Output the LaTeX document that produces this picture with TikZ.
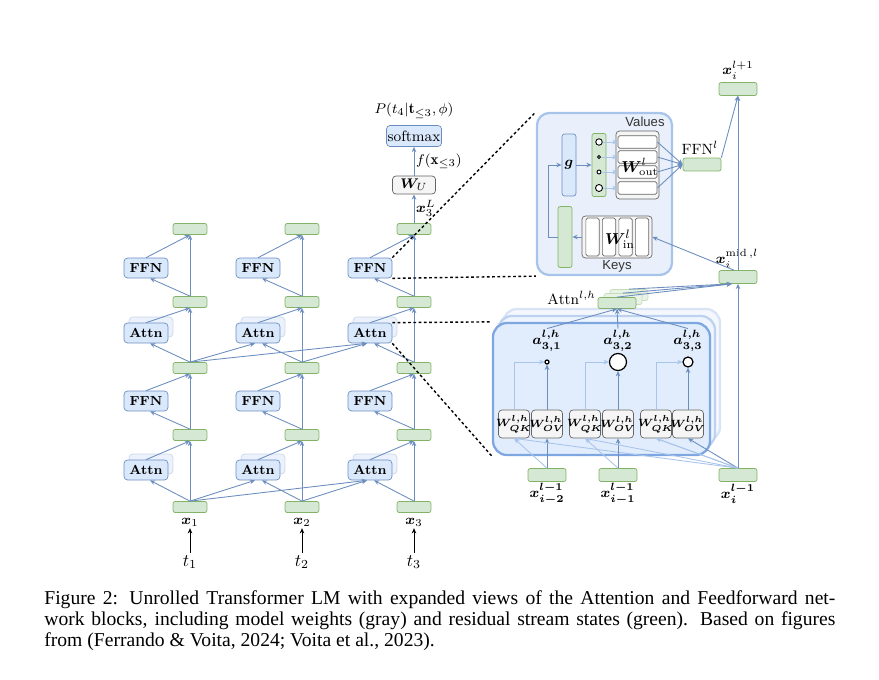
\documentclass[tikz,border=0pt]{standalone}
\usepackage{fontspec}
\usepackage{amsmath}
\usepackage{bm}
\usetikzlibrary{arrows.meta,calc}
\newfontfamily\capfont{Liberation Serif}
\newfontfamily\keyfont{Liberation Sans}

\definecolor{blufill}{HTML}{DAE8FC}
\definecolor{bluline}{HTML}{6C8EBF}
\definecolor{grnfill}{HTML}{D5E8D4}
\definecolor{grnline}{HTML}{82B366}
\definecolor{gryfill}{HTML}{F5F5F5}
\definecolor{gryline}{HTML}{666666}
\definecolor{lightline}{HTML}{A9C4EB}
\definecolor{viewfill}{HTML}{E9F0FB}
\definecolor{viewline}{HTML}{7EA6E0}

\tikzset{
  res/.style={draw=grnline, fill=grnfill, rounded corners=1.2pt, inner sep=0pt,
    minimum width=19.4pt, minimum height=6.3pt},
  midres/.style={res, minimum width=21.7pt, minimum height=7.4pt},
  head/.style={res, minimum width=21.7pt, minimum height=6.3pt},
  headghost/.style={head, draw=grnline!45, fill=grnfill!55},
  blk/.style={draw=bluline, fill=blufill, rounded corners=2pt, inner sep=0pt,
    minimum width=25.1pt, minimum height=11.4pt, font=\fontsize{7.5}{9}\selectfont\bfseries},
  blkghost/.style={blk, draw=bluline!35, fill=blufill!55},
  wbox/.style={draw=gryline, fill=gryfill, rounded corners=2pt, inner sep=0pt,
    minimum width=17.7pt, minimum height=16pt, font=\fontsize{8}{9}\selectfont},
  wlbl/.style={font=\fontsize{6.3}{8}\selectfont, inner sep=0pt},
  cell/.style={draw=gryline, fill=white, rounded corners=1pt, inner sep=0pt},
  neuron/.style={circle, draw=black, fill=white, line width=0.5pt, inner sep=0pt},
  lbl/.style={font=\fontsize{8.5}{10}\selectfont, inner sep=1pt},
  keyl/.style={font=\keyfont\fontsize{7.5}{9}\selectfont, inner sep=1pt, text=black!80},
  view/.style={line width=1.3pt, rounded corners=8pt, minimum width=123.9pt, minimum height=75.4pt},
  arr/.style={draw=bluline, line width=0.5pt, -{Stealth[length=3pt,width=2.6pt]}},
  faint/.style={arr, draw=lightline},
  inarr/.style={draw=black, line width=0.5pt, -{Stealth[length=3pt,width=2.6pt]}},
  zoomline/.style={draw=black, line width=0.8pt, dash pattern=on 1.6pt off 1.4pt},
  capline/.style={anchor=base west, inner sep=0pt, font=\capfont\fontsize{11.2}{13}\selectfont}
}

\begin{document}
\begin{tikzpicture}[x=0.571pt,y=-0.571pt]
\useasboundingbox (0,0) rectangle (879,679);

\foreach \i in {1,2,3} {
  \pgfmathsetmacro\cx{190+112*(\i-1)}
  \pgfmathsetmacro\bx{146+112*(\i-1)}
  \node[res] (g0\i) at (\cx,507) {};
  \node[res] (g1\i) at (\cx,435) {};
  \node[res] (g2\i) at (\cx,368) {};
  \node[res] (g3\i) at (\cx,302) {};
  \node[res] (g4\i) at (\cx,229) {};
  \node[blkghost] at (\bx+5,464) {};
  \node[blk] (a1\i) at (\bx,470) {Attn};
  \node[blk] (f1\i) at (\bx,401) {FFN};
  \node[blkghost] at (\bx+5,327) {};
  \node[blk] (a2\i) at (\bx,333) {Attn};
  \node[blk] (f2\i) at (\bx,268) {FFN};
  \node[lbl] (x\i) at (\cx,522) {$\bm{x}_{\i}$};
  \node[lbl, font=\fontsize{10}{11}\selectfont] (t\i) at (\cx,562) {$t_{\i}$};
  \draw[inarr] (t\i) -- (x\i);

  \draw[arr] (g0\i.north) -- (g1\i.south);
  \draw[arr] (g0\i.north) -- ($(a1\i.south)+(4,0)$);
  \draw[arr] (a1\i.north) -- (g1\i.south);
  \draw[arr] (g1\i.north) -- (g2\i.south);
  \draw[arr] (g1\i.north) -- ($(f1\i.south)+(4,0)$);
  \draw[arr] (f1\i.north) -- (g2\i.south);
  \draw[arr] (g2\i.north) -- (g3\i.south);
  \draw[arr] (g2\i.north) -- ($(a2\i.south)+(4,0)$);
  \draw[arr] (a2\i.north) -- (g3\i.south);
  \draw[arr] (g3\i.north) -- (g4\i.south);
  \draw[arr] (g3\i.north) -- ($(f2\i.south)+(4,0)$);
  \draw[arr] (f2\i.north) -- (g4\i.south);
}
\foreach \s/\d in {1/2,1/3,2/3} {
  \draw[arr] (g0\s.north) -- ($(a1\d.south)+(-3,0)$);
  \draw[arr] (g2\s.north) -- ($(a2\d.south)+(-3,0)$);
}

\node[wbox, minimum width=24.6pt, minimum height=10.3pt] (wu) at (414,185) {$\bm{W}_U$};
\node[blk, minimum width=31.4pt, minimum height=12pt, font=\fontsize{8.5}{10}\selectfont] (smax) at (414,136) {softmax};
\node[lbl] (pout) at (414,111) {$P(t_4|\mathbf{t}_{\le 3},\phi)$};
\draw[arr] (g43.north) -- (wu.south) node[lbl, midway, right] {$\bm{x}_3^L$};
\draw[arr] (wu.north) -- (smax.south) node[lbl, midway, right] {$f(\mathbf{x}_{\le 3})$};

\node[draw=lightline, fill=viewfill, line width=1.3pt, rounded corners=7pt,
  minimum width=77.1pt, minimum height=92.5pt] (ffnv) at (604.5,194) {};
\node[draw=bluline, fill=blufill, rounded corners=1.5pt, minimum width=8pt, minimum height=35.4pt,
  inner sep=0pt, lbl] (gate) at (569,165) {$\bm{g}$};
\node[res, minimum width=8pt, minimum height=36pt] (act) at (599,165) {};
\foreach \y/\d [count=\k] in {142/6.5,157/3,172/4,188/7}
  \node[neuron, minimum size=\d*0.571pt] (n\k) at (599,\y) {};
\node[wbox, minimum width=24.6pt, minimum height=38.8pt] (vals) at (637.5,165) {};
\foreach \y [count=\k] in {142,157,172,188}
  \node[cell, minimum width=22.3pt, minimum height=7.2pt] (v\k) at (637.5,\y) {};
\node[font=\fontsize{9}{10}\selectfont] at (640,167) {$\bm{W}^l_{\mathrm{out}}$};
\node[keyl] at (645,122) {Values};
\node[midres] (ffnl) at (702,164.5) {};
\node[lbl] at (700,148) {$\mathrm{FFN}^l$};
\node[res, minimum width=8pt, minimum height=34.8pt] (hid) at (565,237) {};
\node[wbox, minimum width=40pt, minimum height=24pt] (win) at (617,237) {};
\foreach \x in {592.5,609,625.5,642}
  \node[cell, minimum width=7.6pt, minimum height=21.7pt] at (\x,237) {};
\node[font=\fontsize{9.5}{10}\selectfont] at (620,239) {$\bm{W}^l_{\mathrm{in}}$};
\node[keyl] at (617,266) {Keys};

\draw[arr] (gate.east) -- (act.west);
\foreach \k in {1,...,4} {
  \draw[faint] (n\k.east) -- (v\k.west);
  \draw[arr] (v\k.east) -- (ffnl.west);
}
\draw[arr] (win.west) -- (hid.east);
\draw[arr] (hid.west) -- ++(-9,0) |- (gate.west);

\node[view, draw=viewline!30, fill=blufill!30] at (611.5,375) {};
\node[view, draw=viewline!50, fill=blufill!45] at (606.5,382) {};
\node[view, draw=viewline, fill=blufill!80] (attv) at (601.5,389) {};

\node[headghost] (h3) at (629,295) {};
\node[headghost] (h2) at (623,299) {};
\node[head] (h1) at (617,303) {};
\node[lbl, anchor=east] at (598,298) {$\mathrm{Attn}^{l,h}$};

\foreach \j/\q/\o/\d in {1/514/547/4,2/585/618/17,3/656/688/10} {
  \node[wbox, label={[wlbl]center:{$\bm{W^{l,h}_{QK}}$}}] (qk\j) at (\q,424) {};
  \node[wbox, label={[wlbl]center:{$\bm{W^{l,h}_{OV}}$}}] (ov\j) at (\o,424) {};
  \node[neuron, minimum size=\d*0.571pt, line width=0.7pt] (c\j) at (\o,362) {};
  \node[lbl] (al\j) at (\o,341) {$\bm{a^{l,h}_{3,\j}}$};
  \draw[arr] (ov\j.north) -- (c\j.south);
  \draw[faint] (qk\j.north) |- (c\j.west);
  \draw[arr] (al\j.north) -- (h1.south);
}

\node[midres] (xb1) at (547,475) {};
\node[midres] (xb2) at (618,475) {};
\node[midres] (xb3) at (738,475) {};
\node[lbl] at (547,494) {$\bm{x^{l-1}_{i-2}}$};
\node[lbl] at (618,494) {$\bm{x^{l-1}_{i-1}}$};
\node[lbl] at (738,494) {$\bm{x^{l-1}_{i}}$};
\node[midres] (xmid) at (738,277) {};
\node[midres] (xnext) at (738,89) {};
\node[lbl] at (738,70) {$\bm{x}_i^{l+1}$};
\node[lbl] at (737,259) {$\bm{x}_i^{\mathrm{mid}\,,l}$};

\foreach \j in {1,2,3} {
  \draw[arr] (xb\j.north) -- (ov\j.south);
  \draw[faint] (xb\j.north) -- (qk\j.south);
  \draw[faint] (xb3.north) -- (qk\j.south);
  \draw[arr] (h\j.north) -- ($(xmid.south)+(-6,0)$);
}
\draw[arr] (xb3.north) -- (xmid.south);
\draw[arr] (xmid.north) -- (xnext.south);
\draw[arr] (ffnl.north east) -- (xnext.south);
\draw[arr] ($(xmid.north)+(-4,0)$) -- (win.east);

\draw[zoomline] (f23.north east) -- (ffnv.north west);
\draw[zoomline] (f23.south east) -- (ffnv.south west);
\draw[zoomline] (a23.north east) -- (attv.north west);
\draw[zoomline] (a23.south east) -- (attv.south west);

\node[capline] (cap1) at (44,604)
  {\makebox[451.7pt][s]{Figure 2: Unrolled Transformer LM with expanded views of the Attention and Feedforward net-}};
\node[capline] (cap2) at (44,625)
  {\makebox[451.7pt][s]{work blocks, including model weights (gray) and residual stream states (green). Based on figures}};
\node[capline] (cap3) at (44,646)
  {from (Ferrando \& Voita, 2024; Voita et al., 2023).};
\end{tikzpicture}
\end{document}
